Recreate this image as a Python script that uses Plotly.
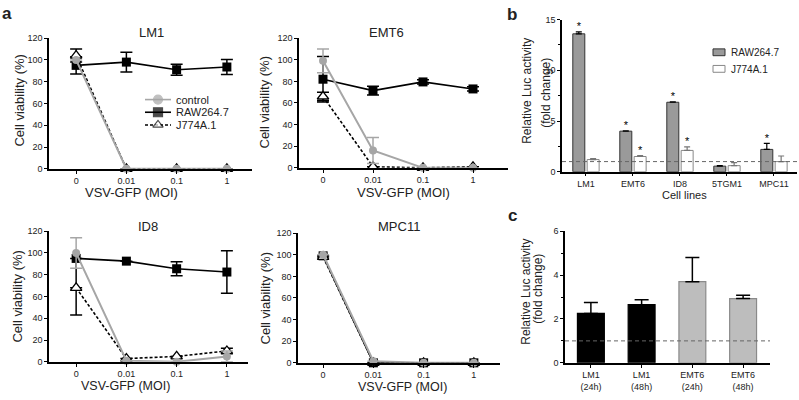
import plotly.graph_objects as go

W, H = 799, 400
FONT = "Liberation Sans, Arial, sans-serif"
TXT = "#222222"
GRAY = "#a6a6a6"

# ---------------- data: panel a ----------------
moi = ["0", "0.01", "0.1", "1"]

lm1_ctrl = [100, 0, 0, 0]
lm1_ctrl_err = [0, 0, 0, 0]
lm1_raw = [95, 98, 91, 93.5]
lm1_raw_err = [8, 9, 5, 7]
lm1_j774 = [104, 0, 0, 0]
lm1_j774_err = [6, 0, 0, 0]

emt6_ctrl = [99, 16, 0, 0]
emt6_ctrl_err = [11, 12, 0, 0]
emt6_raw = [82, 71.5, 79.5, 73]
emt6_raw_err = [21, 4, 2, 2]
emt6_j774 = [66, 1, 0, 1]
emt6_j774_err = [4, 0, 0, 0]

id8_ctrl = [100, 1, 0, 5]
id8_ctrl_err = [14, 0, 0, 5]
id8_raw = [95, 92.5, 85.5, 82.5]
id8_raw_err_up = [0, 0, 6.5, 19.5]
id8_raw_err_down = [52, 0, 6.5, 19.5]
id8_j774 = [68, 3, 5, 10]
id8_j774_err = [0, 0, 0, 2.5]

mpc11_ctrl = [100, 1.5, 0, 0]
mpc11_raw = [99, 0, 0, 0]
mpc11_j774 = [98, 0, 0, 0]

# ---------------- data: panel b ----------------
cell_lines = ["LM1", "EMT6", "ID8", "5TGM1", "MPC11"]
raw_luc = [13.6, 4.0, 6.85, 0.55, 2.2]
raw_luc_err = [0.2, 0.03, 0.05, 0.05, 0.6]
raw_sig = [True, True, True, False, True]
j774_luc = [1.2, 1.5, 2.1, 0.6, 1.0]
j774_luc_err = [0.1, 0.1, 0.35, 0.3, 0.55]
j774_sig = [False, True, True, False, False]

# ---------------- data: panel c ----------------
time_labels = ["LM1<br>(24h)", "LM1<br>(48h)", "EMT6<br>(24h)", "EMT6<br>(48h)"]
time_luc = [2.25, 2.65, 3.7, 2.93]
time_luc_err = [0.5, 0.22, 1.1, 0.15]
time_fill = ["#000000", "#000000", "#bdbdbd", "#bdbdbd"]
time_edge = ["#000000", "#000000", "#8a8a8a", "#8a8a8a"]

fig = go.Figure()


def dom_x(x0, x1):
    return [x0 / W, x1 / W]


def dom_y(ytop, ybot):
    return [1 - ybot / H, 1 - ytop / H]


def err(arr, color, width=6, minus=None):
    d = dict(type="data", array=arr, color=color, thickness=1.5, width=width, visible=True)
    if minus is not None:
        d["symmetric"] = False
        d["arrayminus"] = minus
    return d


def add_viability(ax, ctrl, ctrl_e, raw, raw_e, j774, j774_e, raw_minus=None):
    xa, ya = "x" + ax, "y" + ax
    fig.add_trace(go.Scatter(x=moi, y=raw, xaxis=xa, yaxis=ya, mode="lines+markers",
                             line=dict(color="black", width=1.6),
                             marker=dict(symbol="square", size=9, color="black"),
                             error_y=err(raw_e, "black", minus=raw_minus),
                             cliponaxis=False, showlegend=False))
    fig.add_trace(go.Scatter(x=moi, y=j774, xaxis=xa, yaxis=ya, mode="lines+markers",
                             line=dict(color="black", width=1.6, dash="3px,2px"),
                             marker=dict(symbol="triangle-up", size=10, color="white",
                                         line=dict(color="black", width=1.3)),
                             error_y=err(j774_e, "black"),
                             cliponaxis=False, showlegend=False))
    fig.add_trace(go.Scatter(x=moi, y=ctrl, xaxis=xa, yaxis=ya, mode="lines+markers",
                             line=dict(color=GRAY, width=2),
                             marker=dict(symbol="circle", size=8, color=GRAY),
                             error_y=err(ctrl_e, GRAY),
                             cliponaxis=False, showlegend=False))


add_viability("", lm1_ctrl, lm1_ctrl_err, lm1_raw, lm1_raw_err, lm1_j774, lm1_j774_err)
add_viability("2", emt6_ctrl, emt6_ctrl_err, emt6_raw, emt6_raw_err, emt6_j774, emt6_j774_err)
add_viability("3", id8_ctrl, id8_ctrl_err, id8_raw, id8_raw_err_up, id8_j774, id8_j774_err,
              raw_minus=id8_raw_err_down)
add_viability("4", mpc11_ctrl, [0] * 4, mpc11_raw, [0] * 4, mpc11_j774, [0] * 4)

for tr in fig.data[:3]:
    tr.xaxis = "x"
    tr.yaxis = "y"

# ---------------- panel b bars ----------------
BW = 0.255
OFF_RAW = -0.28
OFF_J = 0.025
idx_b = list(range(len(cell_lines)))
fig.add_trace(go.Bar(x=idx_b, y=raw_luc, xaxis="x5", yaxis="y5", width=BW, offset=OFF_RAW,
                     marker=dict(color="#9a9a9a", line=dict(color="#333333", width=1)),
                     error_y=dict(type="data", array=raw_luc_err, symmetric=False,
                                  arrayminus=[0] * len(raw_luc), color="black",
                                  thickness=1.2, width=3),
                     showlegend=False))
fig.add_trace(go.Bar(x=idx_b, y=j774_luc, xaxis="x5", yaxis="y5", width=BW, offset=OFF_J,
                     marker=dict(color="white", line=dict(color="#888888", width=1)),
                     error_y=dict(type="data", array=j774_luc_err, symmetric=False,
                                  arrayminus=[0] * len(j774_luc), color="#777777",
                                  thickness=1.2, width=3),
                     showlegend=False))

star_x, star_y = [], []
for i, (v, e, s) in enumerate(zip(raw_luc, raw_luc_err, raw_sig)):
    if s:
        star_x.append(i + OFF_RAW + BW / 2)
        star_y.append(v + e + 0.45)
for i, (v, e, s) in enumerate(zip(j774_luc, j774_luc_err, j774_sig)):
    if s:
        star_x.append(i + OFF_J + BW / 2)
        star_y.append(v + e + 0.45)
fig.add_trace(go.Scatter(x=star_x, y=star_y, xaxis="x5", yaxis="y5", mode="text", text=["*"] * len(star_x),
                         textfont=dict(family=FONT, size=11, color="black"), cliponaxis=False,
                         showlegend=False))

# ---------------- panel c bars ----------------
idx_c = list(range(len(time_labels)))
fig.add_trace(go.Bar(x=idx_c, y=time_luc, xaxis="x6", yaxis="y6", width=0.53, offset=-0.265,
                     marker=dict(color=time_fill, line=dict(color=time_edge, width=1.2)),
                     error_y=dict(type="data", array=time_luc_err, symmetric=False,
                                  arrayminus=[0] * len(time_luc), color="black",
                                  thickness=1.5, width=7),
                     showlegend=False))

# ---------------- pixel overlay for legends ----------------
leg_rows = [("control", GRAY, "solid", "circle", GRAY, GRAY, 97),
            ("RAW264.7", "black", "solid", "square", "black", "black", 110),
            ("J774A.1", "black", "3px,2px", "triangle-up", "white", "black", 123)]
for name, lc, dash, sym, fc, mc, yy in leg_rows:
    fig.add_trace(go.Scatter(x=[145, 158, 171], y=[yy, yy, yy], xaxis="x7", yaxis="y7",
                             mode="lines+markers", line=dict(color=lc, width=1.6, dash=dash),
                             marker=dict(symbol=sym, size=[0, 9, 0], color=fc,
                                         line=dict(color=mc, width=1.2)),
                             cliponaxis=False, showlegend=False, hoverinfo="skip"))

# ---------------- axes ----------------
def line_axes(n, xd, yd, xr):
    sx = "" if n == 1 else str(n)
    common = dict(showline=True, linecolor="black", linewidth=1.5, ticks="outside",
                  ticklen=3, tickwidth=1.2, tickcolor="black", showgrid=False, zeroline=False,
                  tickfont=dict(family=FONT, size=9, color=TXT))
    fig.layout["xaxis" + sx] = dict(domain=xd, range=xr, type="category",
                                   anchor="y" + sx, **common)
    fig.layout["yaxis" + sx] = dict(domain=yd, range=[0, 120], dtick=20,
                                   anchor="x" + sx, **common)


line_axes(1, dom_x(49, 252), dom_y(34, 168), [-0.54, 3.5])
line_axes(2, dom_x(299, 508), dom_y(34, 167), [-0.48, 3.7])
line_axes(3, dom_x(49, 248), dom_y(232, 366), [-0.54, 3.42])
line_axes(4, dom_x(298, 500), dom_y(234, 367), [-0.5, 3.52])

bcommon = dict(showline=True, linecolor="black", linewidth=1.5, ticks="outside",
               ticklen=3, tickwidth=1.2, tickcolor="black", showgrid=False, zeroline=False,
               tickfont=dict(family=FONT, size=9, color=TXT))
fig.layout.xaxis5 = dict(domain=dom_x(562, 797), range=[-0.51, 4.49], anchor="y5",
                         tickvals=idx_b, ticktext=cell_lines, **bcommon)
fig.layout.yaxis5 = dict(domain=dom_y(15, 171), range=[0, 15], dtick=5, anchor="x5",
                         minor=dict(dtick=2.5, ticks="outside", ticklen=2, tickcolor="black"),
                         **bcommon)
fig.layout.xaxis6 = dict(domain=dom_x(565, 770), range=[-0.51, 3.53], anchor="y6",
                         tickvals=idx_c, ticktext=time_labels, **bcommon)
fig.layout.yaxis6 = dict(domain=dom_y(232, 367), range=[0, 6], dtick=2, anchor="x6",
                         minor=dict(dtick=1, ticks="outside", ticklen=2, tickcolor="black"),
                         **bcommon)
fig.layout.xaxis7 = dict(domain=[0, 1], range=[0, W], visible=False, fixedrange=True)
fig.layout.yaxis7 = dict(domain=[0, 1], range=[H, 0], visible=False, fixedrange=True,
                         anchor="x7")

for ax in ("5", "6"):
    fig.add_shape(type="line", xref="x" + ax + " domain", yref="y" + ax, x0=0, x1=1, y0=1, y1=1,
                  line=dict(color="#666666", width=1, dash="4px,3px"), layer="above")

fig.add_shape(type="rect", xref="x7", yref="y7", x0=713, x1=725, y0=45, y1=52,
              fillcolor="#9a9a9a", line=dict(color="#333333", width=1))
fig.add_shape(type="rect", xref="x7", yref="y7", x0=713, x1=725, y0=62, y1=69,
              fillcolor="white", line=dict(color="#888888", width=1))

# ---------------- annotations ----------------
ann = []


def txt(x, y, s, size=13, angle=0, bold=False, xanchor="center"):
    ann.append(dict(x=x, y=y, xref="x7", yref="y7", text=("<b>%s</b>" % s) if bold else s,
                    showarrow=False, textangle=angle, xanchor=xanchor, yanchor="middle",
                    font=dict(family=FONT, size=size, color=TXT)))


txt(7, 9, "a", 17, bold=True)
txt(512, 10, "b", 17, bold=True)
txt(512, 216, "c", 17, bold=True)

txt(151, 28, "LM1")
txt(386, 28, "EMT6")
txt(148, 227, "ID8")
txt(399, 227, "MPC11")

txt(131, 192, "VSV-GFP (MOI)")
txt(403, 192, "VSV-GFP (MOI)")
txt(125, 391, "VSV-GFP (MOI)", 12.5)
txt(402, 392, "VSV-GFP (MOI)", 12.5)

txt(20, 98, "Cell viability (%)", 13, angle=-90)
txt(264, 100, "Cell viability (%)", 13, angle=-90)
txt(18, 299, "Cell viability (%)", 13, angle=-90)
txt(265, 301, "Cell viability (%)", 13, angle=-90)

txt(527, 88, "Relative Luc activity", 12, angle=-90)
txt(546, 90, "(fold change)", 12, angle=-90)
txt(526, 294, "Relative Luc activity", 12, angle=-90)
txt(538, 291, "(fold change)", 12, angle=-90)
txt(684, 195, "Cell lines", 11)

txt(174, 97, "control", 11, xanchor="left")
txt(174, 110, "RAW264.7", 11, xanchor="left")
txt(174, 123, "J774A.1", 11, xanchor="left")
txt(729, 49, "RAW264.7", 10, xanchor="left")
txt(729, 66, "J774A.1", 10, xanchor="left")

fig.update_layout(width=W, height=H, margin=dict(l=0, r=0, t=0, b=0),
                  paper_bgcolor="white", plot_bgcolor="rgba(0,0,0,0)",
                  annotations=ann, barmode="overlay", showlegend=False,
                  font=dict(family=FONT, color=TXT))

fig.write_html("out.html", config={"displayModeBar": False},
               post_script="document.body.style.margin='0';document.body.style.overflow='hidden';")
